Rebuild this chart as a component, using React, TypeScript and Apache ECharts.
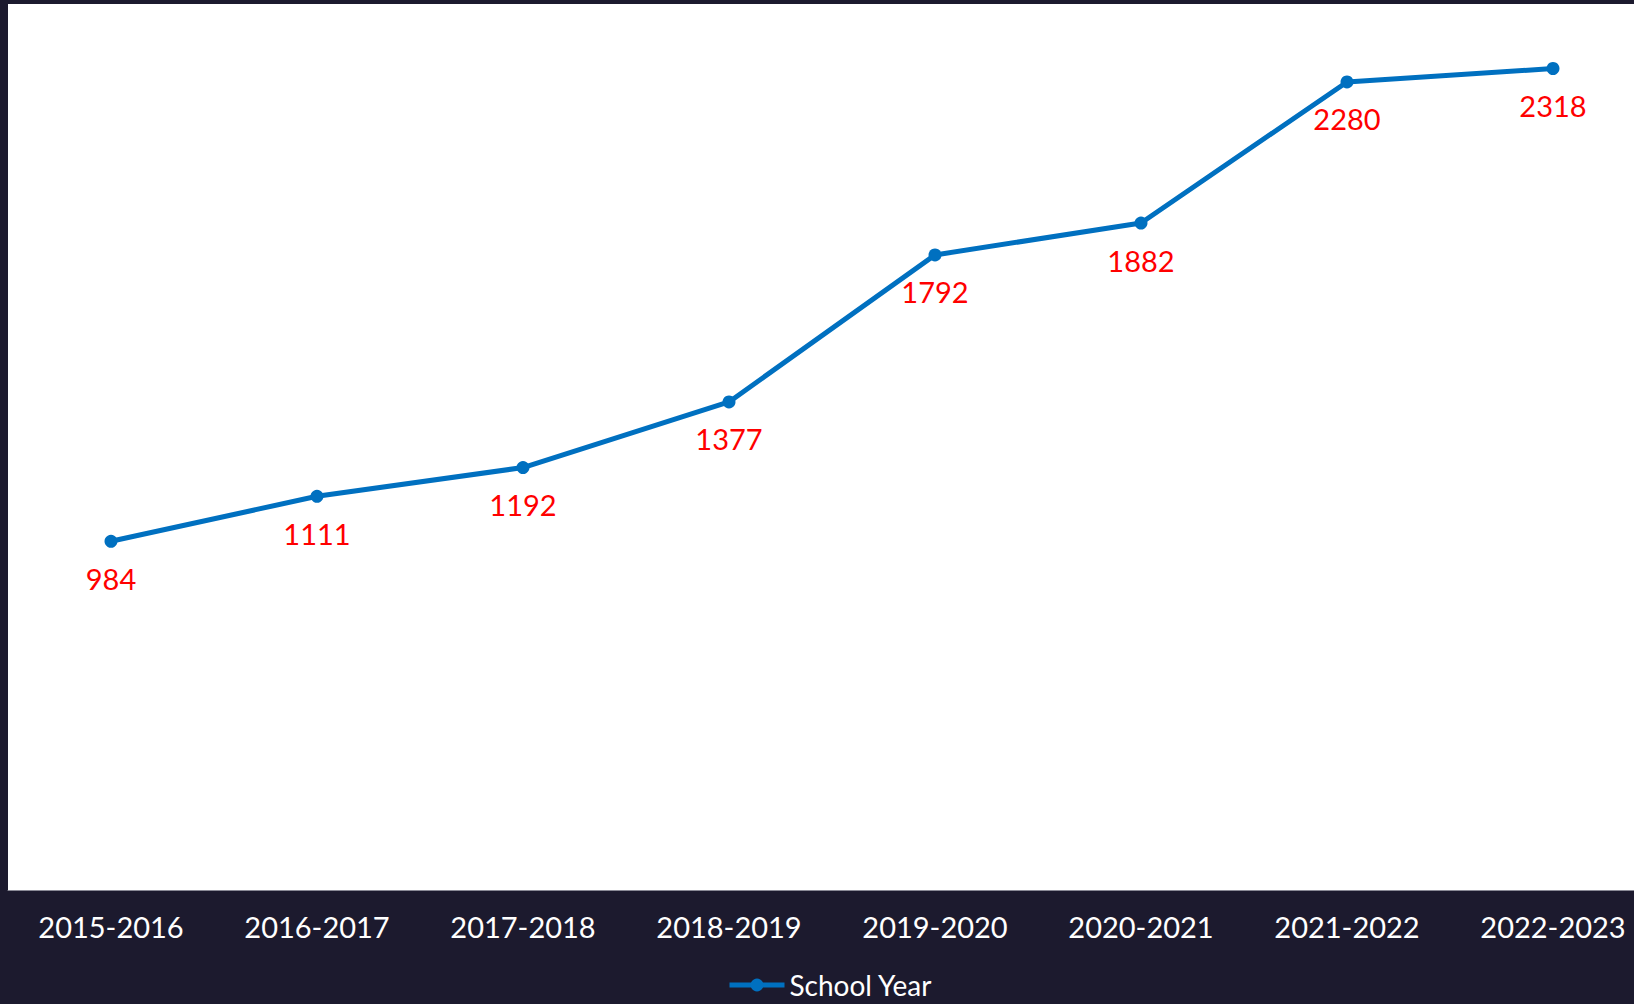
import React, { useEffect, useRef } from "react";
import * as echarts from "echarts";

const categories = ["2015-2016", "2016-2017", "2017-2018", "2018-2019", "2019-2020", "2020-2021", "2021-2022", "2022-2023"];
const values = [984, 1111, 1192, 1377, 1792, 1882, 2280, 2318];
const seriesName = "School Year";

export default function App() {
  const ref = useRef<HTMLDivElement>(null);
  useEffect(() => {
    const chart = echarts.init(ref.current!, null, { renderer: "svg" });
    chart.setOption({
      animation: false,
      backgroundColor: "#1c1a2e",
      textStyle: { fontFamily: "Lato" },
      grid: {
        left: 8,
        right: -22,
        top: 4,
        bottom: 114,
        show: true,
        backgroundColor: "#ffffff",
        borderWidth: 0,
        outerBoundsMode: "none",
        containLabel: false,
      },
      legend: {
        data: [seriesName],
        left: 722,
        top: 966,
        padding: 5,
        itemWidth: 55,
        itemHeight: 16,
        itemGap: 3,
        lineStyle: { width: 5 },
        textStyle: { color: "#ffffff", fontSize: 28, lineHeight: 28, fontFamily: "Lato" },
      },
      xAxis: {
        type: "category",
        data: categories,
        boundaryGap: true,
        axisLine: { show: true, lineStyle: { color: "#8a8a96", width: 1 } },
        axisTick: { show: false },
        axisLabel: { color: "#ffffff", fontSize: 29, margin: 22, fontFamily: "Lato", interval: 0 },
      },
      yAxis: {
        type: "value",
        min: 0,
        max: 2500,
        show: false,
        splitLine: { show: false },
      },
      series: [
        {
          name: seriesName,
          type: "line",
          data: values,
          symbol: "circle",
          symbolSize: 13,
          itemStyle: { color: "#0070c0" },
          lineStyle: { color: "#0070c0", width: 5 },
          label: {
            show: true,
            position: "bottom",
            distance: 16,
            color: "#ff0000",
            fontSize: 29,
            fontFamily: "Lato",
          },
        },
      ],
    });
    return () => chart.dispose();
  }, []);
  return <div ref={ref} style={{ position: "fixed", left: 0, top: 0, width: 1634, height: 1004 }} />;
}
